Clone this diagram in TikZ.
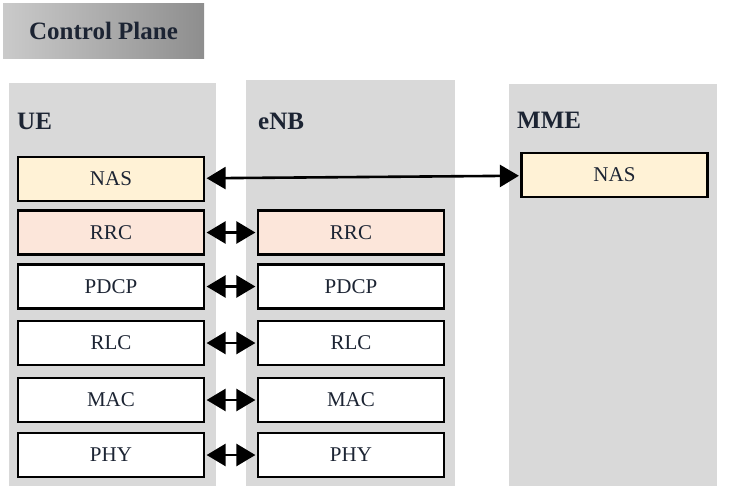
\documentclass[tikz,border=0pt]{standalone}
\usepackage{fontspec}
\setmainfont{Liberation Serif}
\usepackage{xcolor}
\usepackage{tikz}
\usetikzlibrary{arrows.meta, positioning}
\definecolor{colgray}{HTML}{D9D9D9}
\definecolor{nasfill}{HTML}{FFF2D6}
\definecolor{rrcfill}{HTML}{FCE6DA}
\definecolor{inktext}{HTML}{1C2433}
\definecolor{banleft}{HTML}{CACACA}
\definecolor{banright}{HTML}{8E8E8E}

\begin{document}
\begin{tikzpicture}[
    x=1pt, y=-1pt,
    column/.style={fill=colgray, anchor=north west, inner sep=0pt, minimum width=207pt},
    layer/.style={draw, line width=2.6pt, minimum width=186pt, minimum height=44pt,
                  inner sep=0pt, text=inktext, font=\fontsize{21}{25}\selectfont},
    heading/.style={anchor=west, inner sep=0pt, text=inktext,
                    font=\fontsize{25}{30}\selectfont\bfseries},
    link/.style={line width=2.6pt, shorten <=1.3pt, shorten >=1.3pt,
                 {Triangle[length=19pt,width=22pt]}-{Triangle[length=19pt,width=22pt]}}
  ]
    \useasboundingbox (0,0) rectangle (732,490);

    % title banner
    \node[shading=axis, left color=banleft, right color=banright, inner sep=0pt,
          minimum width=201pt, minimum height=55pt, text=inktext,
          font=\fontsize{25}{30}\selectfont\bfseries] (banner) at (103.5,30.5)
      {Control Plane};

    % entity columns
    \node[column, minimum height=403pt] (ue) at (9,83) {};
    \node[column, minimum height=406pt, minimum width=209pt] (enb) at (246,80) {};
    \node[column, minimum height=402pt, minimum width=208pt] (mme) at (509,84) {};

    \node[heading] (ue-title) at (17,121) {UE};
    \node[heading] (enb-title) at (258,121) {eNB};
    \node[heading] (mme-title) at (517,120) {MME};

    % NAS layer, UE to MME
    \node[layer, fill=nasfill] (ue-nas) at (111,179) {NAS};
    \node[layer, fill=nasfill] (mme-nas) at (614.5,175) {NAS};
    \draw[link] (ue-nas) -- (mme-nas);

    % radio layers, UE to eNB
    \foreach \name/\txt/\y/\fillc in {rrc/RRC/232.5/rrcfill, pdcp/PDCP/286.5/white,
                                      rlc/RLC/343/white, mac/MAC/400/white,
                                      phy/PHY/455/white} {
      \node[layer, fill=\fillc] (ue-\name) at (111,\y) {\txt};
      \node[layer, fill=\fillc] (enb-\name) at (351,\y) {\txt};
      \draw[link] (ue-\name) -- (enb-\name);
    }
  \end{tikzpicture}
\end{document}
